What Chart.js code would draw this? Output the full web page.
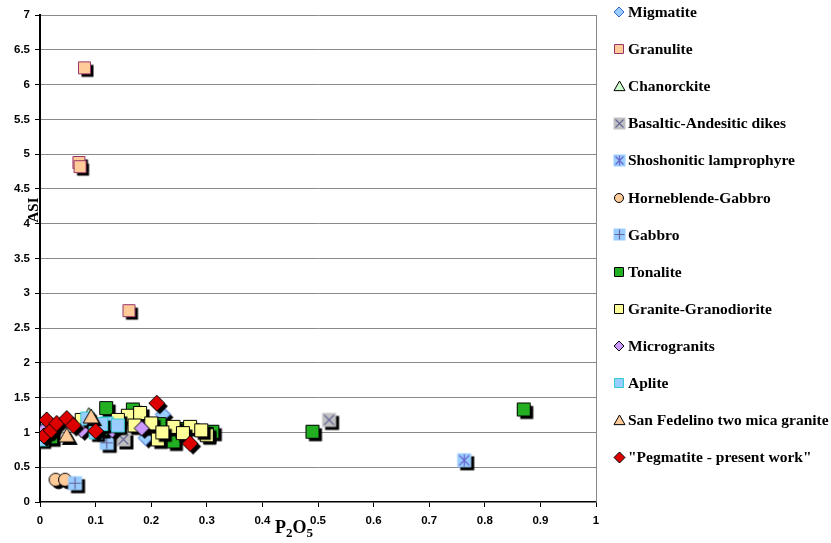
<!DOCTYPE html>
<html>
<head>
<meta charset="utf-8">
<script src="https://cdn.jsdelivr.net/npm/chart.js@4.4.1/dist/chart.umd.min.js"></script>
<style>
  html, body { margin: 0; padding: 0; background: #fff; }
  #wrap { width: 831px; height: 543px; }
</style>
</head>
<body>
<div id="wrap"><canvas id="chart"></canvas></div>
<script>
// P2O5 (x) vs ASI (y) for each rock group
const seriesNames = [
  'Migmatite', 'Granulite', 'Chanorckite', 'Basaltic-Andesitic dikes',
  'Shoshonitic lamprophyre', 'Horneblende-Gabbro', 'Gabbro', 'Tonalite',
  'Granite-Granodiorite', 'Microgranits', 'Aplite', 'San Fedelino two mica granite',
  '"Pegmatite - present work"'
];

const migmatite = [[0.221, 1.26], [0.19, 0.92], [0.005, 1.02]];
const granulite = [[0.08, 6.24], [0.07, 4.88], [0.072, 4.82], [0.16, 2.75]];
const chanorckite = [[0.088, 1.25]];
const basalticDikes = [[0.52, 1.18], [0.15, 0.9]];
const shoshonitic = [[0.763, 0.6]];
const hornblendeGabbro = [[0.028, 0.32], [0.045, 0.32]];
const gabbro = [[0.063, 0.27], [0.12, 0.85]];
const tonalite = [[0.87, 1.33], [0.49, 1.01], [0.119, 1.35], [0.167, 1.33], [0.24, 0.87],
  [0.31, 1.01], [0.30, 0.98], [0.215, 1.12], [0.02, 0.93], [0.25, 1.05], [0.11, 1.05]];
const granite = [[0.158, 1.24], [0.18, 1.28], [0.198, 1.09], [0.212, 0.9], [0.17, 1.1],
  [0.2, 1.13], [0.24, 1.08], [0.27, 1.08], [0.257, 0.99], [0.3, 0.96], [0.075, 1.18],
  [0.14, 1.18], [0.22, 1.0], [0.29, 1.03]];
const microgranits = [[0.183, 1.06], [0.075, 1.03], [0.13, 1.03], [0.005, 1.02]];
const aplite = [[0.003, 0.9], [0.12, 1.13], [0.14, 1.1], [0.085, 1.2], [0.1, 1.0], [0.11, 1.12]];
const sanFedelino = [[0.048, 0.95], [0.092, 1.22]];
const pegmatite = [[0.012, 1.18], [0.007, 0.95], [0.02, 1.03], [0.03, 1.13], [0.048, 1.2],
  [0.06, 1.1], [0.1, 1.02], [0.21, 1.42], [0.27, 0.84]];

const xTicks = [0, 0.1, 0.2, 0.3, 0.4, 0.5, 0.6, 0.7, 0.8, 0.9, 1];
const yTicks = [0, 0.5, 1, 1.5, 2, 2.5, 3, 3.5, 4, 4.5, 5, 5.5, 6, 6.5, 7];

const seriesData = [migmatite, granulite, chanorckite, basalticDikes, shoshonitic,
  hornblendeGabbro, gabbro, tonalite, granite, microgranits, aplite, sanFedelino, pegmatite];

// marker look per series: shape, fill, border, glyph, size in plot, size in legend
const markerStyles = [
  { kind: 'diamond', fill: '#99ccff', stroke: '#3366cc', size: 15, key: 10 },
  { kind: 'square', fill: '#ffcc99', stroke: '#993366', size: 13, key: 10 },
  { kind: 'triangle', fill: '#ccffcc', stroke: '#000', size: 15, key: 11 },
  { kind: 'square', fill: '#c0c0c0', stroke: null, glyph: 'x', glyphColor: '#666699', size: 15, key: 13 },
  { kind: 'square', fill: '#99ccff', stroke: null, glyph: '*', glyphColor: '#6666cc', size: 15, key: 13 },
  { kind: 'circle', fill: '#ffcc99', stroke: '#000', size: 14, key: 10 },
  { kind: 'square', fill: '#99ccff', stroke: null, glyph: '+', glyphColor: '#666699', size: 15, key: 13 },
  { kind: 'square', fill: '#22b022', stroke: '#000', size: 14, key: 10 },
  { kind: 'square', fill: '#ffff99', stroke: '#000', size: 14, key: 10 },
  { kind: 'diamond', fill: '#cc99ff', stroke: '#000', size: 15, key: 10 },
  { kind: 'square', fill: '#99ccff', stroke: '#33cccc', size: 14, key: 10 },
  { kind: 'triangle', fill: '#ffcc99', stroke: '#000', size: 16, key: 11 },
  { kind: 'diamond', fill: '#dd0000', stroke: '#000', size: 16, key: 11 }
];

function makeMarker(st, size, shadow) {
  const pad = shadow ? 5 : 2;
  const s = size + 2 * pad;
  const cv = document.createElement('canvas');
  cv.width = s;
  cv.height = s;
  const g = cv.getContext('2d');
  const c = s / 2;
  const h = size / 2;
  const shape = (d) => {
    const x = c + d, y = c + d;
    g.beginPath();
    if (st.kind === 'square') {
      g.rect(x - h + 0.5, y - h + 0.5, size - 1, size - 1);
    } else if (st.kind === 'diamond') {
      g.moveTo(x, y - h); g.lineTo(x + h, y); g.lineTo(x, y + h); g.lineTo(x - h, y);
      g.closePath();
    } else if (st.kind === 'triangle') {
      g.moveTo(x, y - h); g.lineTo(x + h, y + h * 0.75); g.lineTo(x - h, y + h * 0.75);
      g.closePath();
    } else {
      g.arc(x, y, h - 0.5, 0, Math.PI * 2);
    }
  };
  if (shadow) {
    shape(3);
    g.fillStyle = '#000';
    g.fill();
  }
  shape(0);
  g.fillStyle = st.fill;
  g.fill();
  if (st.stroke) {
    g.lineWidth = 1;
    g.strokeStyle = st.stroke;
    g.stroke();
  }
  if (st.glyph) {
    const k = h - 2.5;
    g.strokeStyle = st.glyphColor;
    g.lineWidth = 1.2;
    g.beginPath();
    if (st.glyph === 'x' || st.glyph === '*') {
      g.moveTo(c - k, c - k); g.lineTo(c + k, c + k);
      g.moveTo(c + k, c - k); g.lineTo(c - k, c + k);
    }
    if (st.glyph === '+' || st.glyph === '*') {
      g.moveTo(c, c - k - 1); g.lineTo(c, c + k + 1);
    }
    if (st.glyph === '+') {
      g.moveTo(c - k - 1, c); g.lineTo(c + k + 1, c);
    }
    g.stroke();
  }
  return cv;
}

const plotMarkers = markerStyles.map(st => makeMarker(st, st.size, true));
const keyMarkers = markerStyles.map(st => makeMarker(st, st.key, false));

const datasets = seriesNames.map((name, i) => ({
  label: name,
  data: seriesData[i].map(([x, y]) => ({ x, y })),
  pointStyle: plotMarkers[i],
  // later series sit on top
  order: seriesNames.length - i
}));

// legend column, axis titles and the plot frame
const decorations = {
  id: 'decorations',
  afterDraw(chart) {
    const ctx = chart.ctx;
    const area = chart.chartArea;
    ctx.save();

    ctx.strokeStyle = '#888';
    ctx.lineWidth = 1;
    ctx.beginPath();
    ctx.moveTo(Math.round(area.right) + 0.5, area.top);
    ctx.lineTo(Math.round(area.right) + 0.5, area.bottom);
    ctx.stroke();

    ctx.fillStyle = '#000';
    ctx.textBaseline = 'middle';
    ctx.textAlign = 'left';
    ctx.font = 'bold 15.5px "Liberation Serif"';
    seriesNames.forEach((name, i) => {
      const y = 12 + i * 37.1;
      const m = keyMarkers[i];
      ctx.drawImage(m, Math.round(619 - m.width / 2), Math.round(y - m.height / 2));
      ctx.fillText(name, 628, y + 1);
    });

    // y title
    ctx.save();
    ctx.translate(34, 210);
    ctx.rotate(-Math.PI / 2);
    ctx.textAlign = 'center';
    ctx.font = 'bold 15px "Liberation Serif"';
    ctx.fillText('ASI', 0, 0);
    ctx.restore();

    // x title with subscripts
    ctx.textBaseline = 'alphabetic';
    let x = 275;
    const base = 533;
    const parts = [['P', 18, 0], ['2', 13, 4], ['O', 18, 0], ['5', 13, 4]];
    parts.forEach(([t, size, drop]) => {
      ctx.font = 'bold ' + size + 'px "Liberation Serif"';
      ctx.fillText(t, x, base + drop);
      x += ctx.measureText(t).width;
    });

    ctx.restore();
  }
};

new Chart(document.getElementById('chart'), {
  type: 'scatter',
  data: { datasets },
  options: {
    responsive: true,
    maintainAspectRatio: false,
    animation: false,
    layout: { padding: { top: 15, right: 235, left: 0, bottom: 0 } },
    plugins: {
      legend: { display: false },
      tooltip: { enabled: false }
    },
    scales: {
      x: {
        type: 'linear',
        min: 0,
        max: 1,
        afterBuildTicks: (scale) => { scale.ticks = xTicks.map(v => ({ value: v })); },
        afterFit: (scale) => { scale.height = 41; },
        ticks: {
          color: '#000',
          padding: 7,
          maxRotation: 0,
          font: { family: '"Liberation Sans"', size: 11.5, weight: 'bold' },
          callback: (v) => String(v)
        },
        grid: {
          drawOnChartArea: false,
          tickLength: 5,
          tickColor: '#000',
          tickWidth: 1
        },
        border: { color: '#000', width: 1.5 }
      },
      y: {
        type: 'linear',
        min: 0,
        max: 7,
        afterBuildTicks: (scale) => { scale.ticks = yTicks.map(v => ({ value: v })); },
        afterFit: (scale) => { scale.width = 40; },
        ticks: {
          color: '#000',
          padding: 5,
          font: { family: '"Liberation Sans"', size: 11.5, weight: 'bold' },
          callback: (v) => String(v)
        },
        grid: {
          color: (c) => c.tick && c.tick.value === 0 ? 'rgba(0,0,0,0)' : '#8a8a8a',
          lineWidth: 1,
          borderDash: [2, 1],
          tickLength: 5,
          tickColor: '#000',
          tickWidth: 1,
          tickBorderDash: []
        },
        border: { color: '#000', width: 2 }
      }
    }
  },
  plugins: [decorations]
});
</script>
</body>
</html>
